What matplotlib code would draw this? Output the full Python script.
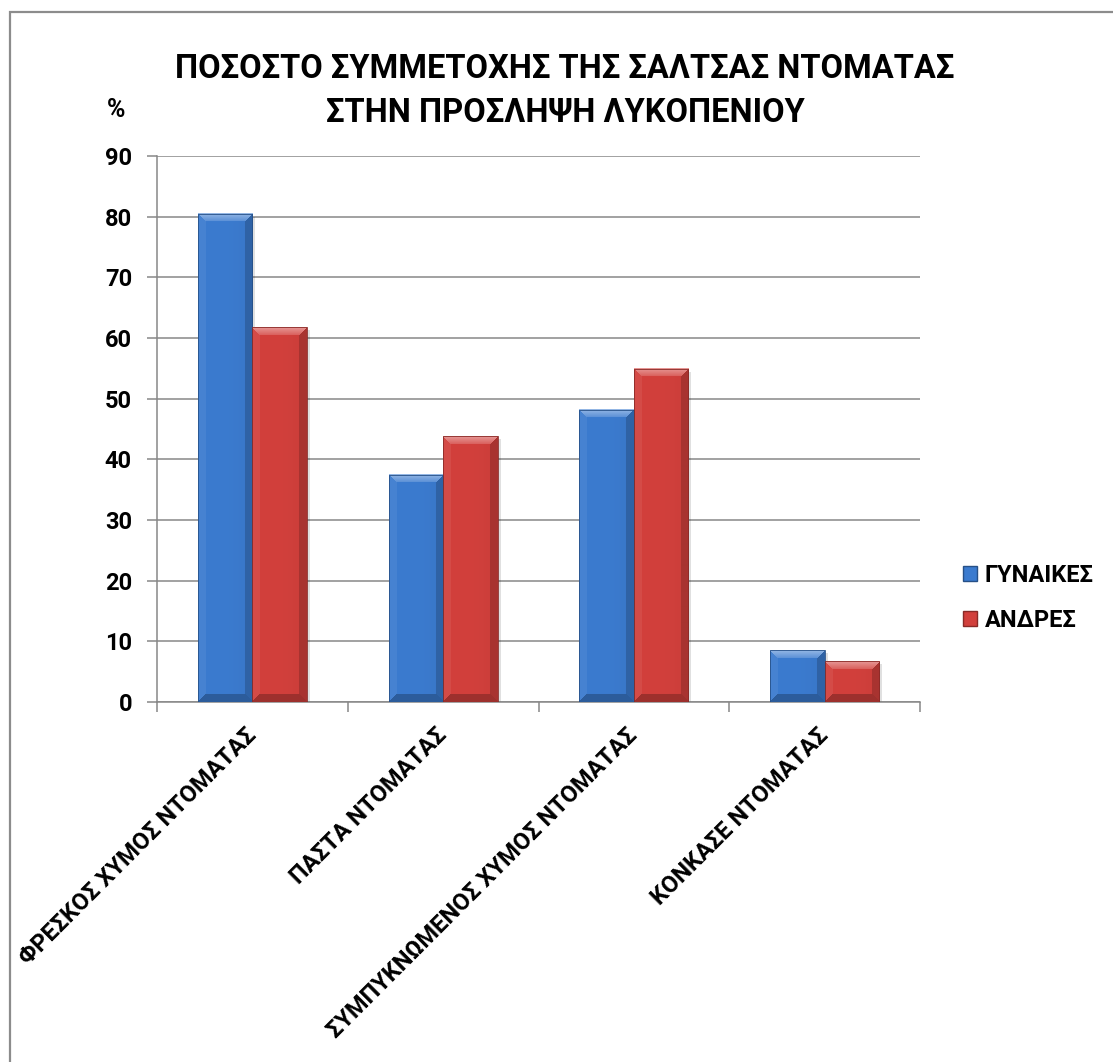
import matplotlib

matplotlib.use("Agg")
import matplotlib.pyplot as plt
import numpy as np
from matplotlib.colors import to_rgb
from matplotlib.patches import Patch, Rectangle

plt.rcParams["font.family"] = ["Roboto", "DejaVu Sans"]
plt.rcParams["font.weight"] = "bold"

categories = [
    "ΦΡΕΣΚΟΣ ΧΥΜΟΣ ΝΤΟΜΑΤΑΣ",
    "ΠΑΣΤΑ ΝΤΟΜΑΤΑΣ",
    "ΣΥΜΠΥΚΝΩΜΕΝΟΣ ΧΥΜΟΣ ΝΤΟΜΑΤΑΣ",
    "ΚΟΝΚΑΣΕ ΝΤΟΜΑΤΑΣ",
]
women = [80.5, 37.5, 48.2, 8.5]
men = [61.8, 43.8, 54.9, 6.7]
series_names = ["ΓΥΝΑΙΚΕΣ", "ΑΝΔΡΕΣ"]
yticks = [0, 10, 20, 30, 40, 50, 60, 70, 80, 90]
title = "ΠΟΣΟΣΤΟ ΣΥΜΜΕΤΟΧΗΣ ΤΗΣ ΣΑΛΤΣΑΣ ΝΤΟΜΑΤΑΣ\nΣΤΗΝ ΠΡΟΣΛΗΨΗ ΛΥΚΟΠΕΝΙΟΥ"

BLUE = "#3b7bcf"
RED = "#d2403c"
GRID = "#878787"
BAR_W = 0.286


def lighten(c, k):
    return c + (1.0 - c) * k


def darken(c, k):
    return c * (1.0 - k)


def bevel_image(color, w_px, h_px, b=8):
    """RGB array for a bar with a bevelled edge: light top, dark right/bottom."""
    base = np.array(to_rgb(color))
    w_px = max(int(round(w_px)), 2)
    h_px = max(int(round(h_px)), 2)
    yy, xx = np.mgrid[0:h_px, 0:w_px].astype(float)
    d = np.stack([yy, h_px - 1 - yy, xx, w_px - 1 - xx])  # top, bottom, left, right
    nearest = np.argmin(d, axis=0)
    dist = np.min(d, axis=0)
    # gentle horizontal shading across the face
    u = xx / (w_px - 1)
    face = 1.0 - 0.10 * (u - 0.35) ** 2
    img = np.clip(base[None, None, :] * face[..., None], 0, 1)
    edge = dist < min(b, h_px / 2)
    top = edge & (nearest == 0)
    bot = edge & (nearest == 1)
    left = edge & (nearest == 2)
    right = edge & (nearest == 3)
    # top bevel fades from bright at the rim to the face colour
    t = (yy / b)[top]
    img[top] = lighten(base, 0.45)[None, :] * (1 - t[:, None]) + lighten(base, 0.15)[None, :] * t[:, None]
    img[bot] = darken(base, 0.25)
    img[left] = lighten(base, 0.06)
    img[right] = darken(base, 0.20)
    return img


fig = plt.figure(figsize=(11.13, 10.62), dpi=100)
ax = fig.add_axes([157 / 1113, 1 - 702 / 1062, 763 / 1113, 546 / 1062])
ax.set_xlim(-0.5, len(categories) - 0.5)
ax.set_ylim(0, 90)

px_per_x = 763 / len(categories)
px_per_y = 546 / 90

for values, color, offset in [(women, BLUE, -BAR_W / 2), (men, RED, BAR_W / 2)]:
    for i, v in enumerate(values):
        x0 = i + offset - BAR_W / 2
        # soft drop shadow
        ax.add_patch(Rectangle((x0 + 3 / px_per_x, -3 / px_per_y), BAR_W, v,
                               facecolor="black", alpha=0.12, edgecolor="none", zorder=2))
        img = bevel_image(color, BAR_W * px_per_x, v * px_per_y)
        ax.imshow(img, extent=(x0, x0 + BAR_W, 0, v), origin="upper", aspect="auto",
                  interpolation="bilinear", zorder=3)
        ax.add_patch(Rectangle((x0, 0), BAR_W, v, facecolor="none",
                               edgecolor=darken(np.array(to_rgb(color)), 0.35),
                               linewidth=0.6, zorder=4))

ax.set_xlim(-0.5, len(categories) - 0.5)
ax.set_ylim(0, 90)
ax.set_yticks(yticks)
ax.set_yticklabels([str(t) for t in yticks], fontsize=17, fontweight="bold")
ax.yaxis.grid(True, color=GRID, linewidth=1.1)
ax.set_axisbelow(True)

ax.set_xticks(np.arange(len(categories)))
ax.set_xticklabels([])
ax.set_xticks(np.arange(len(categories) + 1) - 0.5, minor=True)
ax.tick_params(axis="x", which="major", length=0)
ax.tick_params(axis="x", which="minor", length=7, width=1.1, color=GRID)
ax.tick_params(axis="y", length=7, width=1.1, color=GRID, pad=11)

for i, name in enumerate(categories):
    ax.annotate(name, xy=(i, 0), xycoords="data", xytext=(0, -30), textcoords="offset pixels",
                rotation=45, rotation_mode="anchor", ha="right", va="center",
                fontsize=17, fontweight="bold")

for side in ["top", "right"]:
    ax.spines[side].set_visible(False)
for side in ["left", "bottom"]:
    ax.spines[side].set_color(GRID)
    ax.spines[side].set_linewidth(1.1)

fig.text(565 / 1113, 1 - 91 / 1062, title, ha="center", va="center",
         fontsize=23.5, fontweight="bold", linespacing=1.45)
fig.text(116 / 1113, 1 - 110 / 1062, "%", ha="center", va="center",
         fontsize=18, fontweight="bold")

handles = [Patch(facecolor=BLUE, edgecolor=darken(np.array(to_rgb(BLUE)), 0.35)),
           Patch(facecolor=RED, edgecolor=darken(np.array(to_rgb(RED)), 0.35))]
fig.legend(handles, series_names, loc="center left",
           bbox_to_anchor=(942 / 1113, 1 - 598 / 1062), frameon=False,
           prop={"size": 17, "weight": "bold"}, handlelength=0.6, handleheight=0.6,
           handletextpad=0.3, labelspacing=0.95)

# chart frame
fig.add_artist(Rectangle((9.5 / 1113, -0.1), 2.0, 1.1 - 11.5 / 1062, transform=fig.transFigure,
                         facecolor="none", edgecolor="#8c8c8c", linewidth=1.6))

fig.savefig("out.png", dpi=100)
